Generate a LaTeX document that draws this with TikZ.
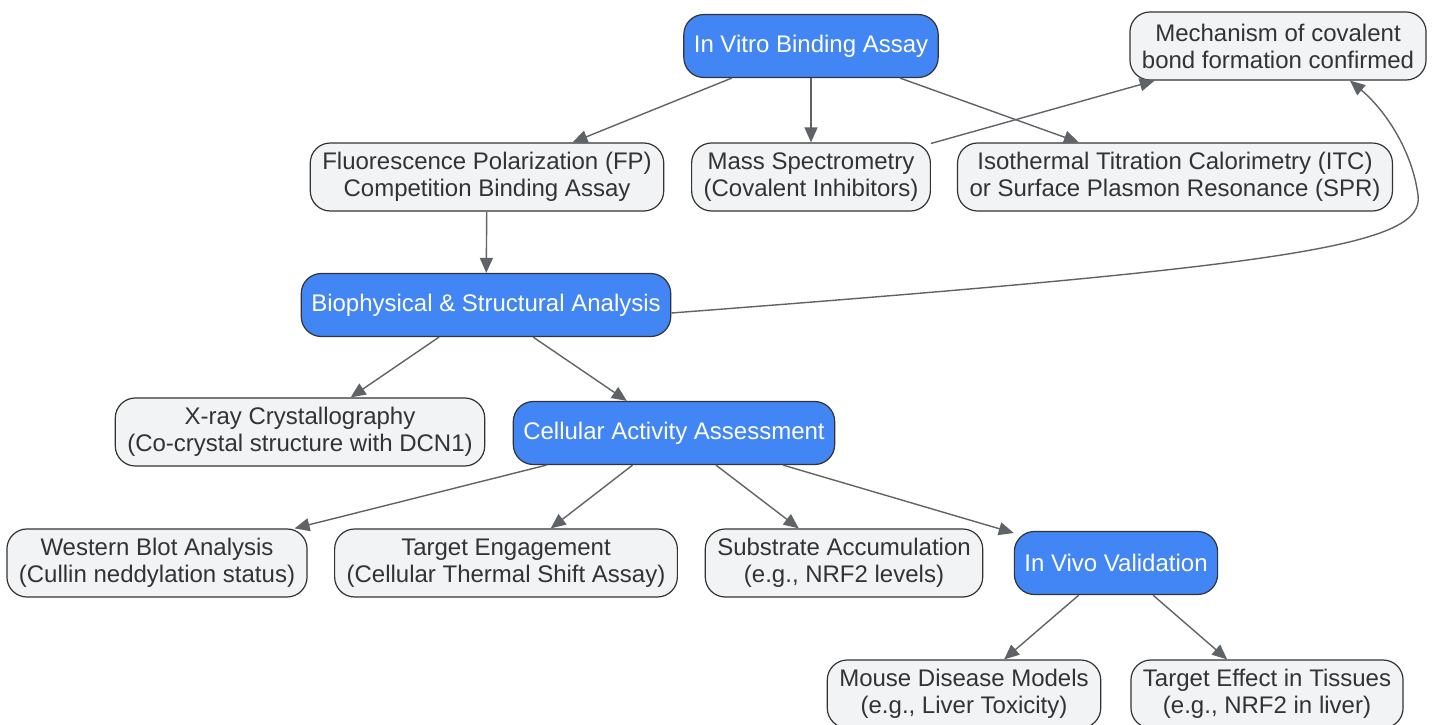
\documentclass[tikz,border=0pt]{standalone}
\usepackage{fontspec}
\setmainfont{Liberation Sans}
\usetikzlibrary{arrows.meta}
\definecolor{stepblue}{HTML}{4285F4}
\definecolor{boxgray}{HTML}{F1F3F4}
\definecolor{edgegray}{HTML}{5F6368}
\definecolor{inkgray}{HTML}{333333}
\tikzset{
  stage/.style={draw=inkgray, line width=1.2pt, rounded corners=20pt, fill=stepblue,
    text=white, align=center, minimum height=63pt, inner xsep=10pt,
    font=\fontsize{24}{27}\selectfont},
  method/.style={draw=inkgray, line width=1.2pt, rounded corners=20pt, fill=boxgray,
    text=inkgray, align=center, minimum height=68pt, inner xsep=12pt,
    font=\fontsize{24}{27}\selectfont},
  link/.style={draw=edgegray, line width=1.4pt, -{Triangle[length=15pt,width=13pt]}}
}
\begin{document}
\begin{tikzpicture}[x=1pt,y=-1pt]
  \useasboundingbox (0,0) rectangle (1436,725);
	% top row
	\node[stage ] (vitro) at ( 811, 46) {In Vitro Binding Assay};
	\node[method] (mech)  at (1278, 46) {Mechanism of covalent\\bond formation confirmed};
	\node[method] (fp)    at ( 487,177) {Fluorescence Polarization (FP)\\Competition Binding Assay};
	\node[method] (ms)    at ( 811,177) {Mass Spectrometry\\(Covalent Inhibitors)};
	\node[method] (itc)   at (1175,177) {Isothermal Titration Calorimetry (ITC)\\or Surface Plasmon Resonance (SPR)};
	% middle
	\node[stage ] (bio)   at ( 486,305) {Biophysical \& Structural Analysis};
	\node[method] (xray)  at ( 300,432) {X-ray Crystallography\\(Co-crystal structure with DCN1)};
	\node[stage ] (cell)  at ( 674,433) {Cellular Activity Assessment};
	% bottom
	\node[method] (wb)    at ( 157,563) {Western Blot Analysis\\(Cullin neddylation status)};
	\node[method] (te)    at ( 506,563) {Target Engagement\\(Cellular Thermal Shift Assay)};
	\node[method] (sa)    at ( 844,563) {Substrate Accumulation\\(e.g., NRF2 levels)};
	\node[stage ] (vivo)  at (1116,563) {In Vivo Validation};
	\node[method] (mouse) at ( 964,694) {Mouse Disease Models\\(e.g., Liver Toxicity)};
	\node[method] (tissue)at (1267,694) {Target Effect in Tissues\\(e.g., NRF2 in liver)};

	\draw[link] (vitro) -- (fp);
	\draw[link] (vitro) -- (ms);
	\draw[link] (vitro) -- (itc);
	\draw[link] (ms)    -- (mech);
	\draw[link] (fp)    -- (bio);
	\draw[link] ([yshift=-8pt]bio.east) .. controls (1300,265) and (1425,245) .. (1418,195)
	                                    .. controls (1412,150) and (1385,110) .. ([xshift=72pt]mech.south);
	\draw[link] (bio)   -- (xray);
	\draw[link] (bio)   -- (cell);
	\draw[link] (cell)  -- (wb);
	\draw[link] (cell)  -- (te);
	\draw[link] (cell)  -- (sa);
	\draw[link] (cell)  -- (vivo);
	\draw[link] (vivo)  -- (mouse);
	\draw[link] (vivo)  -- (tissue);
\end{tikzpicture}
\end{document}
